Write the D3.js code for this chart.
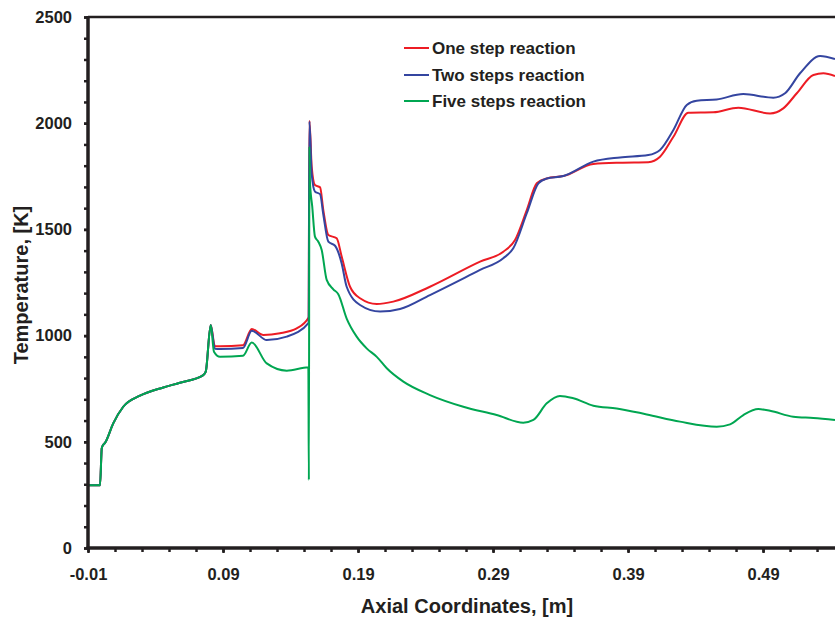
<!DOCTYPE html>
<html>
<head>
<meta charset="utf-8">
<script src="https://cdn.jsdelivr.net/npm/d3@7/dist/d3.min.js"></script>
<style>
  html, body { margin: 0; padding: 0; background: #fff; }
  svg { display: block; font-family: "Liberation Sans", Arial, Helvetica, sans-serif; }
</style>
</head>
<body>
<svg id="chart" width="835" height="618"></svg>
<script>
// ---- data (axial coordinate [m], temperature [K]) ----
const seriesNames = ["One step reaction", "Two steps reaction", "Five steps reaction"];
const seriesColors = ["#ed1c24", "#3445a0", "#00a651"];

const commonX = [-0.01, -0.0011, 0.0002, 0.0012, 0.0026, 0.0087, 0.0161, 0.0285, 0.0458, 0.0581, 0.0754, 0.0772, 0.0809];
const commonT = [295, 295, 470, 485, 495, 587, 665, 717, 756, 778, 814, 830, 1050];

const oneStepX = [0.0840, 0.0878, 0.1048, 0.1113, 0.1199, 0.1322, 0.1446, 0.1534, 0.1540, 0.1557, 0.1581, 0.1619, 0.1643, 0.1680, 0.1742, 0.1779, 0.1841, 0.1915, 0.2039, 0.2161, 0.2433, 0.2804, 0.2976, 0.3063, 0.3150, 0.3224, 0.3298, 0.3421, 0.3643, 0.3841, 0.4050, 0.4137, 0.4236, 0.4347, 0.4532, 0.4717, 0.4952, 0.5050, 0.5150, 0.5273, 0.5347, 0.5433];
const oneStepT = [950, 950, 955, 1031, 1003, 1011, 1034, 1085, 2012, 1795, 1709, 1698, 1591, 1474, 1458, 1372, 1230, 1176, 1149, 1160, 1230, 1348, 1395, 1450, 1591, 1717, 1740, 1751, 1808, 1814, 1816, 1842, 1936, 2049, 2051, 2073, 2046, 2070, 2141, 2227, 2235, 2222];

const twoStepsX = [0.0840, 0.0878, 0.1048, 0.1113, 0.1224, 0.1372, 0.1534, 0.1540, 0.1557, 0.1581, 0.1619, 0.1643, 0.1680, 0.1730, 0.1779, 0.1816, 0.1915, 0.2063, 0.2211, 0.2433, 0.2804, 0.2976, 0.3050, 0.3150, 0.3236, 0.3298, 0.3421, 0.3643, 0.3841, 0.4050, 0.4137, 0.4236, 0.4335, 0.4409, 0.4557, 0.4754, 0.4976, 0.5063, 0.5174, 0.5322, 0.5433];
const twoStepsT = [938, 937, 942, 1023, 979, 995, 1060, 2008, 1760, 1678, 1666, 1570, 1442, 1423, 1340, 1230, 1144, 1113, 1125, 1191, 1309, 1364, 1411, 1576, 1717, 1740, 1751, 1819, 1839, 1850, 1874, 1968, 2086, 2106, 2112, 2137, 2120, 2141, 2235, 2316, 2302];

const fiveStepsX = [0.0833, 0.0878, 0.1048, 0.1113, 0.1224, 0.1372, 0.1532, 0.1536, 0.1540, 0.1544, 0.1561, 0.1581, 0.1606, 0.1631, 0.1668, 0.1717, 0.1754, 0.1816, 0.1890, 0.1964, 0.2039, 0.2113, 0.2236, 0.2433, 0.2680, 0.2927, 0.3124, 0.3199, 0.3298, 0.3396, 0.3495, 0.3643, 0.3816, 0.4039, 0.4285, 0.4557, 0.4656, 0.4754, 0.4865, 0.4952, 0.5124, 0.5273, 0.5433];
const fiveStepsT = [924, 900, 905, 967, 869, 835, 851, 320, 1890, 1725, 1607, 1466, 1442, 1403, 1262, 1218, 1195, 1080, 995, 940, 900, 846, 783, 720, 665, 626, 590, 603, 681, 716, 705, 670, 657, 629, 595, 571, 582, 626, 654, 646, 618, 612, 603];

const xTickValues = [-0.01, 0.09, 0.19, 0.29, 0.39, 0.49];
const xTickLabels = ["-0.01", "0.09", "0.19", "0.29", "0.39", "0.49"];
const xMinorValues = d3.range(0, 28).map(i => -0.01 + i * 0.02);
const yTickValues = [0, 500, 1000, 1500, 2000, 2500];
const yTickLabels = ["0", "500", "1000", "1500", "2000", "2500"];
const yMinorValues = d3.range(0, 26).map(i => i * 100);

const xTitle = "Axial Coordinates, [m]";
const yTitle = "Temperature, [K]";

// ---- layout ----
const svg = d3.select("#chart");
const L = 88, R = 835, T = 17, B = 548;
const ink = "#231f20";

const x = d3.scaleLinear().domain([-0.01, 0.5433]).range([L, R]);
const y = d3.scaleLinear().domain([0, 2500]).range([B, T]);

function zipSeries(xs, ts) { return xs.map((v, i) => [v, ts[i]]); }
const common = zipSeries(commonX, commonT);
const series = [
  common.concat(zipSeries(oneStepX, oneStepT)),
  common.concat(zipSeries(twoStepsX, twoStepsT)),
  common.concat(zipSeries(fiveStepsX, fiveStepsT))
];

svg.append("defs").append("clipPath").attr("id", "clip")
  .append("rect").attr("x", L).attr("y", T - 2).attr("width", R - L).attr("height", B - T + 2);

const line = d3.line().x(d => x(d[0])).y(d => y(d[1])).curve(d3.curveMonotoneX);

const gLines = svg.append("g").attr("clip-path", "url(#clip)");
series.forEach((s, i) => {
  gLines.append("path").datum(s)
    .attr("fill", "none")
    .attr("stroke", seriesColors[i])
    .attr("stroke-width", 2)
    .attr("stroke-linejoin", "round")
    .attr("d", line);
});

// top border
svg.append("line").attr("x1", L).attr("x2", R).attr("y1", T).attr("y2", T)
  .attr("stroke", ink).attr("stroke-width", 2.5);

// minor ticks
const xMinor = svg.append("g").attr("transform", `translate(0,${B})`)
  .call(d3.axisBottom(x).tickValues(xMinorValues).tickSize(4).tickSizeOuter(0).tickFormat(""));
xMinor.select(".domain").remove();
xMinor.selectAll("line").attr("stroke", ink).attr("stroke-width", 2.5);

const yMinor = svg.append("g").attr("transform", `translate(${L},0)`)
  .call(d3.axisLeft(y).tickValues(yMinorValues).tickSize(4).tickSizeOuter(0).tickFormat(""));
yMinor.select(".domain").remove();
yMinor.selectAll("line").attr("stroke", ink).attr("stroke-width", 2.5);

// major axes
const xAxis = svg.append("g").attr("transform", `translate(0,${B})`)
  .call(d3.axisBottom(x).tickValues(xTickValues).tickSize(5).tickPadding(15).tickSizeOuter(0)
    .tickFormat((d, i) => xTickLabels[i]));
xAxis.select(".domain").attr("stroke", ink).attr("stroke-width", 3.5).attr("d", `M${L - 1.5},0H${R}`);
xAxis.selectAll("line").attr("stroke", ink).attr("stroke-width", 2.5);
xAxis.selectAll("text").attr("fill", ink).style("font-size", "16.5px").style("font-weight", "bold");

const yAxis = svg.append("g").attr("transform", `translate(${L},0)`)
  .call(d3.axisLeft(y).tickValues(yTickValues).tickSize(4).tickPadding(12).tickSizeOuter(0)
    .tickFormat((d, i) => yTickLabels[i]));
yAxis.select(".domain").attr("stroke", ink).attr("stroke-width", 3.5).attr("d", `M0,${B + 1.5}V${T - 1}`);
yAxis.selectAll("line").attr("stroke", ink).attr("stroke-width", 2.5);
yAxis.selectAll("text").attr("fill", ink).style("font-size", "16.5px").style("font-weight", "bold");

// axis titles
svg.append("text").attr("x", 467).attr("y", 613).attr("text-anchor", "middle")
  .attr("fill", ink).style("font-size", "20px").style("font-weight", "bold").text(xTitle);
svg.append("text").attr("transform", "translate(28,285) rotate(-90)").attr("text-anchor", "middle")
  .attr("fill", ink).style("font-size", "20px").style("font-weight", "bold").text(yTitle);

// legend
const legendY = [48, 75, 101];
seriesNames.forEach((name, i) => {
  const g = svg.append("g").attr("transform", `translate(404,${legendY[i]})`);
  g.append("line").attr("x1", 0).attr("x2", 25).attr("y1", 0).attr("y2", 0)
    .attr("stroke", seriesColors[i]).attr("stroke-width", 2);
  g.append("text").attr("x", 28).attr("y", 0).attr("dy", "0.35em")
    .attr("fill", ink).style("font-size", "17px").style("font-weight", "bold").text(name);
});
</script>
</body>
</html>
